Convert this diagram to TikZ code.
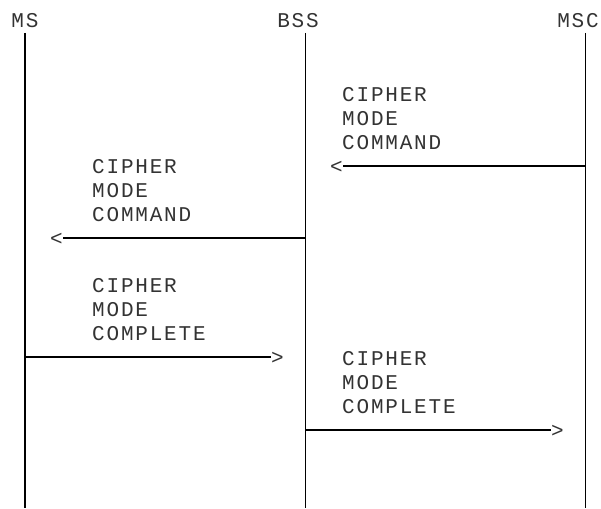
\documentclass[tikz,border=0pt]{standalone}
\usepackage{fontspec}
\newfontfamily\diafont[LetterSpace=8.6]{Liberation Mono}
\usetikzlibrary{positioning}
\tikzset{
  txt/.style={inner sep=0pt,text=black!80,font=\diafont\fontsize{21}{24}\selectfont},
  msg/.style={txt,anchor=base west,align=left},
  tip/.style={txt,anchor=base},
  life/.style={line width=1.6pt},
  sig/.style={line width=1.5pt}
}
\begin{document}
\begin{tikzpicture}[x=1pt,y=-1pt]
    \useasboundingbox (0,0) rectangle (601,508);
    \node[txt,anchor=base] (MS) at (25,28) {MS};
    \node[txt,anchor=base] (BSS) at (298,28) {BSS};
    \node[txt,anchor=base] (MSC) at (578,28) {MSC};
    \coordinate (MStop) at (25,33);
    \coordinate (MSbot) at (25,508);
    \coordinate (BSStop) at (305.5,33);
    \coordinate (BSSbot) at (305.5,508);
    \coordinate (MSCtop) at (585.5,33);
    \coordinate (MSCbot) at (585.5,508);
    \draw[life] (MStop) -- (MSbot);
    \draw[life] (BSStop) -- (BSSbot);
    \draw[life] (MSCtop) -- (MSCbot);
    \node[msg] (L1) at (342,149) {CIPHER\\MODE\\COMMAND};
    \coordinate (S1) at (585.5,166);
    \node[tip] (T1) at (336.5,173) {<};
    \draw[sig] (S1) -- (T1.east |- S1);
    \node[msg] (L2) at (92,221) {CIPHER\\MODE\\COMMAND};
    \coordinate (S2) at (305.5,238);
    \node[tip] (T2) at (56.5,245) {<};
    \draw[sig] (S2) -- (T2.east |- S2);
    \node[msg] (L3) at (92,340) {CIPHER\\MODE\\COMPLETE};
    \coordinate (S3) at (25,357);
    \node[tip] (T3) at (277.5,364) {>};
    \draw[sig] (S3) -- (T3.west |- S3);
    \node[msg] (L4) at (342,413) {CIPHER\\MODE\\COMPLETE};
    \coordinate (S4) at (305.5,430);
    \node[tip] (T4) at (557.5,437) {>};
    \draw[sig] (S4) -- (T4.west |- S4);
\end{tikzpicture}
\end{document}
